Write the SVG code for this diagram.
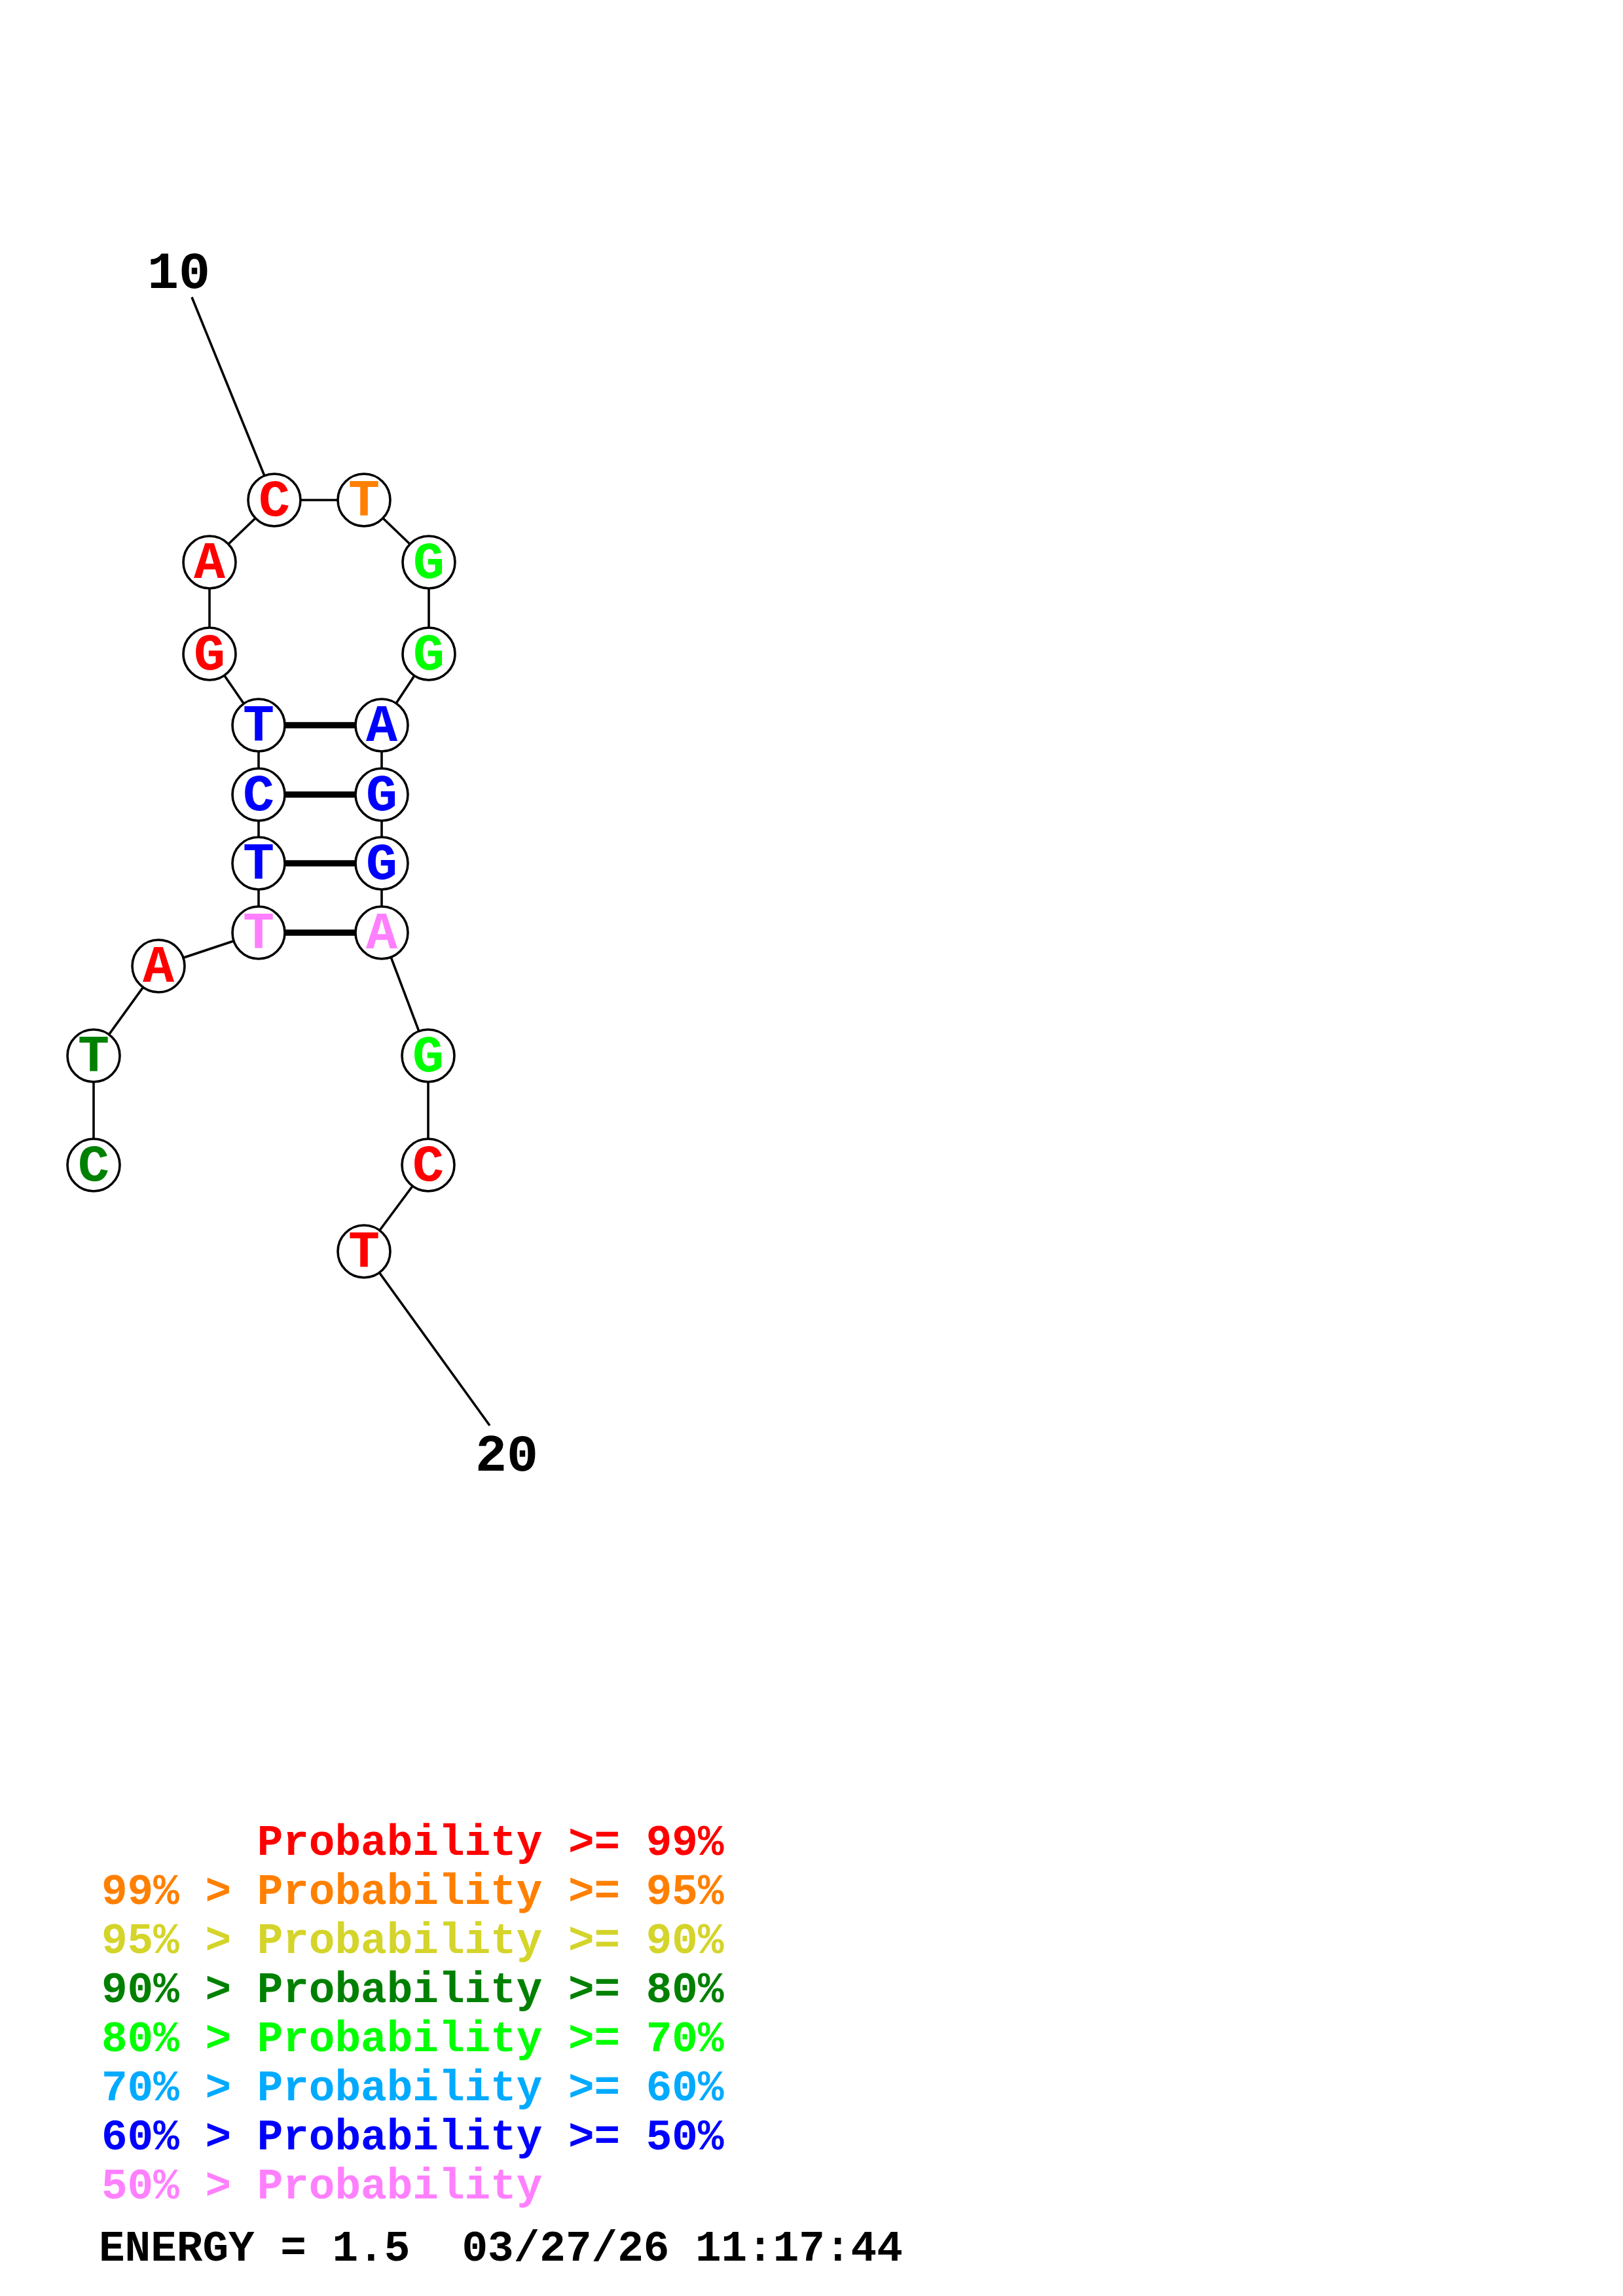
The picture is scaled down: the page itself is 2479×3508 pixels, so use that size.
<svg xmlns="http://www.w3.org/2000/svg" width="2479" height="3508" viewBox="0 0 2479 3508">
<style>
.bg{fill:#ffffff}
.ln{stroke:#000;stroke-width:3.6;fill:none}
.bp{stroke:#000;stroke-width:9.6;fill:none}
.nd{fill:#fff;stroke:#000;stroke-width:3.6}
.nt{font-family:"Liberation Mono","Courier New",monospace;font-weight:bold;font-size:80px;text-anchor:middle}
.lb{font-family:"Liberation Mono","Courier New",monospace;font-weight:bold;font-size:80px;text-anchor:middle;fill:#000}
.lg{font-family:"Liberation Mono","Courier New",monospace;font-weight:bold;font-size:66px}
.r{fill:#ff0000}.o{fill:#ff8000}.y{fill:#d4d42a}.dg{fill:#008000}.g{fill:#00ff00}.lb2{fill:#00aaff}.b{fill:#0000ff}.p{fill:#ff80ff}.k{fill:#000}
</style>
<rect class="bg" x="0" y="0" width="2479" height="3508"/>
<g id="connectors">
<line class="ln" x1="293" y1="454" x2="419" y2="764"/>
<line class="ln" x1="419" y1="764" x2="556" y2="764"/>
<line class="ln" x1="556" y1="764" x2="655" y2="859"/>
<line class="ln" x1="655" y1="859" x2="655" y2="999"/>
<line class="ln" x1="655" y1="999" x2="583" y2="1108"/>
<line class="ln" x1="419" y1="764" x2="320" y2="859"/>
<line class="ln" x1="320" y1="859" x2="320" y2="999"/>
<line class="ln" x1="320" y1="999" x2="395" y2="1108"/>
<line class="ln" x1="395" y1="1108" x2="395" y2="1425"/>
<line class="ln" x1="583" y1="1108" x2="583" y2="1425"/>
<line class="bp" x1="395" y1="1108" x2="583" y2="1108"/>
<line class="bp" x1="395" y1="1214" x2="583" y2="1214"/>
<line class="bp" x1="395" y1="1319" x2="583" y2="1319"/>
<line class="bp" x1="395" y1="1425" x2="583" y2="1425"/>
<line class="ln" x1="395" y1="1425" x2="242" y2="1476"/>
<line class="ln" x1="242" y1="1476" x2="143" y2="1613"/>
<line class="ln" x1="143" y1="1613" x2="143" y2="1780"/>
<line class="ln" x1="583" y1="1425" x2="654" y2="1613"/>
<line class="ln" x1="654" y1="1613" x2="654" y2="1780"/>
<line class="ln" x1="654" y1="1780" x2="556" y2="1912"/>
<line class="ln" x1="556" y1="1912" x2="748" y2="2178"/>
</g>
<g id="label10"><text class="lb" x="273" y="440">10</text></g>
<g id="label20"><text class="lb" x="774" y="2247">20</text></g>
<g id="n1"><circle class="nd" cx="143" cy="1780" r="40"/><text class="nt dg" x="143" y="1804">C</text></g>
<g id="n2"><circle class="nd" cx="143" cy="1613" r="40"/><text class="nt dg" x="143" y="1637">T</text></g>
<g id="n3"><circle class="nd" cx="242" cy="1476" r="40"/><text class="nt r" x="242" y="1500">A</text></g>
<g id="n4"><circle class="nd" cx="395" cy="1425" r="40"/><text class="nt p" x="395" y="1449">T</text></g>
<g id="n5"><circle class="nd" cx="395" cy="1319" r="40"/><text class="nt b" x="395" y="1343">T</text></g>
<g id="n6"><circle class="nd" cx="395" cy="1214" r="40"/><text class="nt b" x="395" y="1238">C</text></g>
<g id="n7"><circle class="nd" cx="395" cy="1108" r="40"/><text class="nt b" x="395" y="1132">T</text></g>
<g id="n8"><circle class="nd" cx="320" cy="999" r="40"/><text class="nt r" x="320" y="1023">G</text></g>
<g id="n9"><circle class="nd" cx="320" cy="859" r="40"/><text class="nt r" x="320" y="883">A</text></g>
<g id="n10"><circle class="nd" cx="419" cy="764" r="40"/><text class="nt r" x="419" y="788">C</text></g>
<g id="n11"><circle class="nd" cx="556" cy="764" r="40"/><text class="nt o" x="556" y="788">T</text></g>
<g id="n12"><circle class="nd" cx="655" cy="859" r="40"/><text class="nt g" x="655" y="883">G</text></g>
<g id="n13"><circle class="nd" cx="655" cy="999" r="40"/><text class="nt g" x="655" y="1023">G</text></g>
<g id="n14"><circle class="nd" cx="583" cy="1108" r="40"/><text class="nt b" x="583" y="1132">A</text></g>
<g id="n15"><circle class="nd" cx="583" cy="1214" r="40"/><text class="nt b" x="583" y="1238">G</text></g>
<g id="n16"><circle class="nd" cx="583" cy="1319" r="40"/><text class="nt b" x="583" y="1343">G</text></g>
<g id="n17"><circle class="nd" cx="583" cy="1425" r="40"/><text class="nt p" x="583" y="1449">A</text></g>
<g id="n18"><circle class="nd" cx="654" cy="1613" r="40"/><text class="nt g" x="654" y="1637">G</text></g>
<g id="n19"><circle class="nd" cx="654" cy="1780" r="40"/><text class="nt r" x="654" y="1804">C</text></g>
<g id="n20"><circle class="nd" cx="556" cy="1912" r="40"/><text class="nt r" x="556" y="1936">T</text></g>
<g id="legend">
<text class="lg r" x="155" y="2834" xml:space="preserve">      Probability &gt;= 99%</text>
<text class="lg o" x="155" y="2909" xml:space="preserve">99% &gt; Probability &gt;= 95%</text>
<text class="lg y" x="155" y="2984" xml:space="preserve">95% &gt; Probability &gt;= 90%</text>
<text class="lg dg" x="155" y="3059" xml:space="preserve">90% &gt; Probability &gt;= 80%</text>
<text class="lg g" x="155" y="3134" xml:space="preserve">80% &gt; Probability &gt;= 70%</text>
<text class="lg lb2" x="155" y="3209" xml:space="preserve">70% &gt; Probability &gt;= 60%</text>
<text class="lg b" x="155" y="3284" xml:space="preserve">60% &gt; Probability &gt;= 50%</text>
<text class="lg p" x="155" y="3359" xml:space="preserve">50% &gt; Probability</text>
<text class="lg k" x="151" y="3454" xml:space="preserve">ENERGY = 1.5  03/27/26 11:17:44</text>
</g>
</svg>
